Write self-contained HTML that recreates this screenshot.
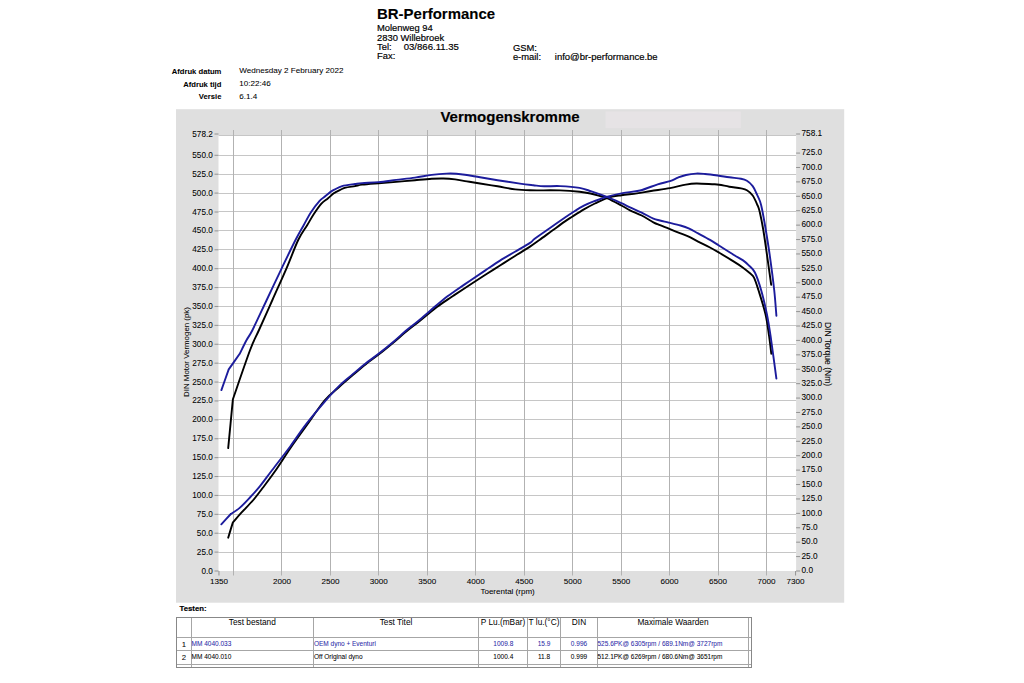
<!DOCTYPE html>
<html><head><meta charset="utf-8"><title>BR-Performance Vermogenskromme</title>
<style>
html,body{margin:0;padding:0;background:#fff;width:1024px;height:683px;overflow:hidden}
svg{display:block;font-family:"Liberation Sans",sans-serif}
</style></head><body>
<svg width="1024" height="683" viewBox="0 0 1024 683">
<text transform="translate(377.00,18.80) scale(1.055,1)" font-size="14.2" text-anchor="start" fill="#000" stroke="#000" stroke-width="0.1" font-weight="bold">BR-Performance</text>
<text transform="translate(377.00,30.80) scale(1.01,1)" font-size="9.3" text-anchor="start" fill="#000" stroke="#000" stroke-width="0.18">Molenweg 94</text>
<text transform="translate(377.00,41.00) scale(1.01,1)" font-size="9.3" text-anchor="start" fill="#000" stroke="#000" stroke-width="0.18">2830 Willebroek</text>
<text transform="translate(377.00,50.30) scale(1.01,1)" font-size="9.3" text-anchor="start" fill="#000" stroke="#000" stroke-width="0.18">Tel:</text>
<text transform="translate(377.00,59.40) scale(1.01,1)" font-size="9.3" text-anchor="start" fill="#000" stroke="#000" stroke-width="0.18">Fax:</text>
<text transform="translate(403.70,50.30) scale(1.03,1)" font-size="9.3" text-anchor="start" fill="#000" stroke="#000" stroke-width="0.18">03/866.11.35</text>
<text transform="translate(512.90,50.80) scale(1.01,1)" font-size="9.3" text-anchor="start" fill="#000" stroke="#000" stroke-width="0.18">GSM:</text>
<text transform="translate(512.90,59.60) scale(1.01,1)" font-size="9.3" text-anchor="start" fill="#000" stroke="#000" stroke-width="0.18">e-mail:</text>
<text transform="translate(554.80,59.60) scale(1.02,1)" font-size="9.3" text-anchor="start" fill="#000" stroke="#000" stroke-width="0.18">info@br-performance.be</text>
<text transform="translate(221.40,74.40) scale(1.0,1)" font-size="7.65" text-anchor="end" fill="#000" stroke="#000" stroke-width="0.05" font-weight="bold">Afdruk datum</text>
<text transform="translate(239.20,73.20) scale(1.0,1)" font-size="8.1" text-anchor="start" fill="#000" stroke="#000" stroke-width="0.05">Wednesday 2 February 2022</text>
<text transform="translate(221.40,86.60) scale(1.0,1)" font-size="7.65" text-anchor="end" fill="#000" stroke="#000" stroke-width="0.05" font-weight="bold">Afdruk tijd</text>
<text transform="translate(239.20,85.80) scale(1.0,1)" font-size="8.1" text-anchor="start" fill="#000" stroke="#000" stroke-width="0.05">10:22:46</text>
<text transform="translate(221.40,99.30) scale(1.0,1)" font-size="7.65" text-anchor="end" fill="#000" stroke="#000" stroke-width="0.05" font-weight="bold">Versie</text>
<text transform="translate(239.20,98.60) scale(1.0,1)" font-size="8.1" text-anchor="start" fill="#000" stroke="#000" stroke-width="0.05">6.1.4</text>
<rect x="176" y="109.2" width="668.2" height="493.5" fill="#dfdfdf"/>
<rect x="605.5" y="111.4" width="135.3" height="16.7" fill="#e6e3e5"/>
<text transform="translate(510.00,122.20) scale(1.08,1)" font-size="13.9" text-anchor="middle" fill="#000" stroke="#000" stroke-width="0.15" font-weight="bold">Vermogenskromme</text>
<rect x="218.5" y="135" width="577.6" height="436.0" fill="#fff"/>
<path d="M218.5 552.5H796.1M218.5 533.5H796.1M218.5 514.5H796.1M218.5 495.5H796.1M218.5 476.5H796.1M218.5 457.5H796.1M218.5 438.5H796.1M218.5 419.5H796.1M218.5 400.5H796.1M218.5 382.5H796.1M218.5 363.5H796.1M218.5 344.5H796.1M218.5 325.5H796.1M218.5 306.5H796.1M218.5 287.5H796.1M218.5 268.5H796.1M218.5 249.5H796.1M218.5 230.5H796.1M218.5 211.5H796.1M218.5 193.5H796.1M218.5 174.5H796.1M218.5 155.5H796.1M218.5 135.5H796.1" stroke="#c6c6c6" stroke-width="1" fill="none"/>
<path d="M233.5 130V575.5M281.5 130V575.5M330.5 130V575.5M378.5 130V575.5M427.5 130V575.5M475.5 130V575.5M524.5 130V575.5M572.5 130V575.5M621.5 130V575.5M669.5 130V575.5M718.5 130V575.5M766.5 130V575.5" stroke="#b2b2b2" stroke-width="1" fill="none"/>
<path d="M214.5 571.00H218.5M214.5 552.11H218.5M214.5 533.21H218.5M214.5 514.32H218.5M214.5 495.42H218.5M214.5 476.53H218.5M214.5 457.63H218.5M214.5 438.74H218.5M214.5 419.84H218.5M214.5 400.95H218.5M214.5 382.05H218.5M214.5 363.16H218.5M214.5 344.26H218.5M214.5 325.37H218.5M214.5 306.47H218.5M214.5 287.58H218.5M214.5 268.68H218.5M214.5 249.79H218.5M214.5 230.89H218.5M214.5 212.00H218.5M214.5 193.10H218.5M214.5 174.21H218.5M214.5 155.31H218.5M214.5 134.00H218.5M796.1 571.00H800.1M796.1 556.59H800.1M796.1 542.18H800.1M796.1 527.77H800.1M796.1 513.36H800.1M796.1 498.94H800.1M796.1 484.53H800.1M796.1 470.12H800.1M796.1 455.71H800.1M796.1 441.30H800.1M796.1 426.89H800.1M796.1 412.48H800.1M796.1 398.07H800.1M796.1 383.66H800.1M796.1 369.25H800.1M796.1 354.83H800.1M796.1 340.42H800.1M796.1 326.01H800.1M796.1 311.60H800.1M796.1 297.19H800.1M796.1 282.78H800.1M796.1 268.37H800.1M796.1 253.96H800.1M796.1 239.55H800.1M796.1 225.14H800.1M796.1 210.72H800.1M796.1 196.31H800.1M796.1 181.90H800.1M796.1 167.49H800.1M796.1 153.08H800.1M796.1 134.00H800.1M218.96 571.0V575.5M795.57 571.0V575.5" stroke="#8a8a8a" stroke-width="0.9" fill="none"/>
<text transform="translate(212.80,573.50) scale(1.0,1)" font-size="8.2" text-anchor="end" fill="#000" stroke="#000" stroke-width="0.06">0.0</text>
<text transform="translate(212.80,554.61) scale(1.0,1)" font-size="8.2" text-anchor="end" fill="#000" stroke="#000" stroke-width="0.06">25.0</text>
<text transform="translate(212.80,535.71) scale(1.0,1)" font-size="8.2" text-anchor="end" fill="#000" stroke="#000" stroke-width="0.06">50.0</text>
<text transform="translate(212.80,516.82) scale(1.0,1)" font-size="8.2" text-anchor="end" fill="#000" stroke="#000" stroke-width="0.06">75.0</text>
<text transform="translate(212.80,497.92) scale(1.0,1)" font-size="8.2" text-anchor="end" fill="#000" stroke="#000" stroke-width="0.06">100.0</text>
<text transform="translate(212.80,479.03) scale(1.0,1)" font-size="8.2" text-anchor="end" fill="#000" stroke="#000" stroke-width="0.06">125.0</text>
<text transform="translate(212.80,460.13) scale(1.0,1)" font-size="8.2" text-anchor="end" fill="#000" stroke="#000" stroke-width="0.06">150.0</text>
<text transform="translate(212.80,441.24) scale(1.0,1)" font-size="8.2" text-anchor="end" fill="#000" stroke="#000" stroke-width="0.06">175.0</text>
<text transform="translate(212.80,422.34) scale(1.0,1)" font-size="8.2" text-anchor="end" fill="#000" stroke="#000" stroke-width="0.06">200.0</text>
<text transform="translate(212.80,403.45) scale(1.0,1)" font-size="8.2" text-anchor="end" fill="#000" stroke="#000" stroke-width="0.06">225.0</text>
<text transform="translate(212.80,384.55) scale(1.0,1)" font-size="8.2" text-anchor="end" fill="#000" stroke="#000" stroke-width="0.06">250.0</text>
<text transform="translate(212.80,365.66) scale(1.0,1)" font-size="8.2" text-anchor="end" fill="#000" stroke="#000" stroke-width="0.06">275.0</text>
<text transform="translate(212.80,346.76) scale(1.0,1)" font-size="8.2" text-anchor="end" fill="#000" stroke="#000" stroke-width="0.06">300.0</text>
<text transform="translate(212.80,327.87) scale(1.0,1)" font-size="8.2" text-anchor="end" fill="#000" stroke="#000" stroke-width="0.06">325.0</text>
<text transform="translate(212.80,308.97) scale(1.0,1)" font-size="8.2" text-anchor="end" fill="#000" stroke="#000" stroke-width="0.06">350.0</text>
<text transform="translate(212.80,290.08) scale(1.0,1)" font-size="8.2" text-anchor="end" fill="#000" stroke="#000" stroke-width="0.06">375.0</text>
<text transform="translate(212.80,271.18) scale(1.0,1)" font-size="8.2" text-anchor="end" fill="#000" stroke="#000" stroke-width="0.06">400.0</text>
<text transform="translate(212.80,252.29) scale(1.0,1)" font-size="8.2" text-anchor="end" fill="#000" stroke="#000" stroke-width="0.06">425.0</text>
<text transform="translate(212.80,233.39) scale(1.0,1)" font-size="8.2" text-anchor="end" fill="#000" stroke="#000" stroke-width="0.06">450.0</text>
<text transform="translate(212.80,214.50) scale(1.0,1)" font-size="8.2" text-anchor="end" fill="#000" stroke="#000" stroke-width="0.06">475.0</text>
<text transform="translate(212.80,195.60) scale(1.0,1)" font-size="8.2" text-anchor="end" fill="#000" stroke="#000" stroke-width="0.06">500.0</text>
<text transform="translate(212.80,176.71) scale(1.0,1)" font-size="8.2" text-anchor="end" fill="#000" stroke="#000" stroke-width="0.06">525.0</text>
<text transform="translate(212.80,157.81) scale(1.0,1)" font-size="8.2" text-anchor="end" fill="#000" stroke="#000" stroke-width="0.06">550.0</text>
<text transform="translate(212.80,136.50) scale(1.0,1)" font-size="8.2" text-anchor="end" fill="#000" stroke="#000" stroke-width="0.06">578.2</text>
<text transform="translate(801.50,573.30) scale(1.01,1)" font-size="8.2" text-anchor="start" fill="#000" stroke="#000" stroke-width="0.06">0.0</text>
<text transform="translate(801.50,558.89) scale(1.01,1)" font-size="8.2" text-anchor="start" fill="#000" stroke="#000" stroke-width="0.06">25.0</text>
<text transform="translate(801.50,544.48) scale(1.01,1)" font-size="8.2" text-anchor="start" fill="#000" stroke="#000" stroke-width="0.06">50.0</text>
<text transform="translate(801.50,530.07) scale(1.01,1)" font-size="8.2" text-anchor="start" fill="#000" stroke="#000" stroke-width="0.06">75.0</text>
<text transform="translate(801.50,515.66) scale(1.01,1)" font-size="8.2" text-anchor="start" fill="#000" stroke="#000" stroke-width="0.06">100.0</text>
<text transform="translate(801.50,501.24) scale(1.01,1)" font-size="8.2" text-anchor="start" fill="#000" stroke="#000" stroke-width="0.06">125.0</text>
<text transform="translate(801.50,486.83) scale(1.01,1)" font-size="8.2" text-anchor="start" fill="#000" stroke="#000" stroke-width="0.06">150.0</text>
<text transform="translate(801.50,472.42) scale(1.01,1)" font-size="8.2" text-anchor="start" fill="#000" stroke="#000" stroke-width="0.06">175.0</text>
<text transform="translate(801.50,458.01) scale(1.01,1)" font-size="8.2" text-anchor="start" fill="#000" stroke="#000" stroke-width="0.06">200.0</text>
<text transform="translate(801.50,443.60) scale(1.01,1)" font-size="8.2" text-anchor="start" fill="#000" stroke="#000" stroke-width="0.06">225.0</text>
<text transform="translate(801.50,429.19) scale(1.01,1)" font-size="8.2" text-anchor="start" fill="#000" stroke="#000" stroke-width="0.06">250.0</text>
<text transform="translate(801.50,414.78) scale(1.01,1)" font-size="8.2" text-anchor="start" fill="#000" stroke="#000" stroke-width="0.06">275.0</text>
<text transform="translate(801.50,400.37) scale(1.01,1)" font-size="8.2" text-anchor="start" fill="#000" stroke="#000" stroke-width="0.06">300.0</text>
<text transform="translate(801.50,385.96) scale(1.01,1)" font-size="8.2" text-anchor="start" fill="#000" stroke="#000" stroke-width="0.06">325.0</text>
<text transform="translate(801.50,371.55) scale(1.01,1)" font-size="8.2" text-anchor="start" fill="#000" stroke="#000" stroke-width="0.06">350.0</text>
<text transform="translate(801.50,357.13) scale(1.01,1)" font-size="8.2" text-anchor="start" fill="#000" stroke="#000" stroke-width="0.06">375.0</text>
<text transform="translate(801.50,342.72) scale(1.01,1)" font-size="8.2" text-anchor="start" fill="#000" stroke="#000" stroke-width="0.06">400.0</text>
<text transform="translate(801.50,328.31) scale(1.01,1)" font-size="8.2" text-anchor="start" fill="#000" stroke="#000" stroke-width="0.06">425.0</text>
<text transform="translate(801.50,313.90) scale(1.01,1)" font-size="8.2" text-anchor="start" fill="#000" stroke="#000" stroke-width="0.06">450.0</text>
<text transform="translate(801.50,299.49) scale(1.01,1)" font-size="8.2" text-anchor="start" fill="#000" stroke="#000" stroke-width="0.06">475.0</text>
<text transform="translate(801.50,285.08) scale(1.01,1)" font-size="8.2" text-anchor="start" fill="#000" stroke="#000" stroke-width="0.06">500.0</text>
<text transform="translate(801.50,270.67) scale(1.01,1)" font-size="8.2" text-anchor="start" fill="#000" stroke="#000" stroke-width="0.06">525.0</text>
<text transform="translate(801.50,256.26) scale(1.01,1)" font-size="8.2" text-anchor="start" fill="#000" stroke="#000" stroke-width="0.06">550.0</text>
<text transform="translate(801.50,241.85) scale(1.01,1)" font-size="8.2" text-anchor="start" fill="#000" stroke="#000" stroke-width="0.06">575.0</text>
<text transform="translate(801.50,227.44) scale(1.01,1)" font-size="8.2" text-anchor="start" fill="#000" stroke="#000" stroke-width="0.06">600.0</text>
<text transform="translate(801.50,213.02) scale(1.01,1)" font-size="8.2" text-anchor="start" fill="#000" stroke="#000" stroke-width="0.06">625.0</text>
<text transform="translate(801.50,198.61) scale(1.01,1)" font-size="8.2" text-anchor="start" fill="#000" stroke="#000" stroke-width="0.06">650.0</text>
<text transform="translate(801.50,184.20) scale(1.01,1)" font-size="8.2" text-anchor="start" fill="#000" stroke="#000" stroke-width="0.06">675.0</text>
<text transform="translate(801.50,169.79) scale(1.01,1)" font-size="8.2" text-anchor="start" fill="#000" stroke="#000" stroke-width="0.06">700.0</text>
<text transform="translate(801.50,155.38) scale(1.01,1)" font-size="8.2" text-anchor="start" fill="#000" stroke="#000" stroke-width="0.06">725.0</text>
<text transform="translate(801.50,136.30) scale(1.01,1)" font-size="8.2" text-anchor="start" fill="#000" stroke="#000" stroke-width="0.06">758.1</text>
<text transform="translate(218.96,583.60) scale(1.0,1)" font-size="8.1" text-anchor="middle" fill="#000" stroke="#000" stroke-width="0.06">1350</text>
<text transform="translate(281.95,583.60) scale(1.0,1)" font-size="8.1" text-anchor="middle" fill="#000" stroke="#000" stroke-width="0.06">2000</text>
<text transform="translate(330.41,583.60) scale(1.0,1)" font-size="8.1" text-anchor="middle" fill="#000" stroke="#000" stroke-width="0.06">2500</text>
<text transform="translate(378.86,583.60) scale(1.0,1)" font-size="8.1" text-anchor="middle" fill="#000" stroke="#000" stroke-width="0.06">3000</text>
<text transform="translate(427.31,583.60) scale(1.0,1)" font-size="8.1" text-anchor="middle" fill="#000" stroke="#000" stroke-width="0.06">3500</text>
<text transform="translate(475.77,583.60) scale(1.0,1)" font-size="8.1" text-anchor="middle" fill="#000" stroke="#000" stroke-width="0.06">4000</text>
<text transform="translate(524.22,583.60) scale(1.0,1)" font-size="8.1" text-anchor="middle" fill="#000" stroke="#000" stroke-width="0.06">4500</text>
<text transform="translate(572.68,583.60) scale(1.0,1)" font-size="8.1" text-anchor="middle" fill="#000" stroke="#000" stroke-width="0.06">5000</text>
<text transform="translate(621.13,583.60) scale(1.0,1)" font-size="8.1" text-anchor="middle" fill="#000" stroke="#000" stroke-width="0.06">5500</text>
<text transform="translate(669.59,583.60) scale(1.0,1)" font-size="8.1" text-anchor="middle" fill="#000" stroke="#000" stroke-width="0.06">6000</text>
<text transform="translate(718.04,583.60) scale(1.0,1)" font-size="8.1" text-anchor="middle" fill="#000" stroke="#000" stroke-width="0.06">6500</text>
<text transform="translate(766.50,583.60) scale(1.0,1)" font-size="8.1" text-anchor="middle" fill="#000" stroke="#000" stroke-width="0.06">7000</text>
<text transform="translate(795.57,583.60) scale(1.0,1)" font-size="8.1" text-anchor="middle" fill="#000" stroke="#000" stroke-width="0.06">7300</text>
<text transform="translate(507.60,593.50) scale(1.0,1)" font-size="8.0" text-anchor="middle" fill="#000" stroke="#000" stroke-width="0.05">Toerental (rpm)</text>
<text transform="translate(188.6,352) rotate(-90)" font-size="7.9" text-anchor="middle" fill="#000" stroke="#000" stroke-width="0.05">DIN Motor Vermogen (pk)</text>
<text transform="translate(825.0,354.0) rotate(90)" font-size="8.5" text-anchor="middle" fill="#000" stroke="#000" stroke-width="0.05">DIN Torque (Nm)</text>
<path d="M228.20 537.70C228.97 535.18 232.03 525.12 232.80 522.60M232.80 522.60C234.23 520.95 237.98 516.47 241.40 512.70C244.82 508.93 249.80 504.07 253.30 500.00C256.80 495.93 258.78 493.08 262.40 488.30C266.02 483.52 270.20 478.18 275.00 471.30C279.80 464.42 285.93 454.63 291.20 447.00C296.47 439.37 301.05 433.25 306.60 425.50C312.15 417.75 319.12 406.88 324.50 400.50C329.88 394.12 334.32 391.32 338.90 387.20C343.48 383.08 347.57 379.60 352.00 375.80C356.43 372.00 361.07 367.93 365.50 364.40C369.93 360.87 373.68 358.47 378.60 354.60C383.52 350.73 390.60 344.87 395.00 341.20C399.40 337.53 400.83 336.02 405.00 332.60C409.17 329.18 415.00 324.73 420.00 320.70C425.00 316.67 430.42 311.92 435.00 308.40C439.58 304.88 444.17 301.90 447.50 299.60C450.83 297.30 451.25 297.07 455.00 294.60C458.75 292.13 465.00 288.07 470.00 284.80C475.00 281.53 480.00 278.22 485.00 275.00C490.00 271.78 495.00 268.67 500.00 265.50C505.00 262.33 510.00 259.15 515.00 256.00C520.00 252.85 525.93 249.27 530.00 246.60C534.07 243.93 535.73 242.63 539.40 240.00C543.07 237.37 547.73 233.90 552.00 230.80C556.27 227.70 561.63 223.75 565.00 221.40C568.37 219.05 569.05 218.70 572.20 216.70C575.35 214.70 580.12 211.60 583.90 209.40C587.68 207.20 590.95 205.43 594.90 203.50C598.85 201.57 603.18 199.18 607.60 197.80C612.02 196.42 616.52 195.93 621.40 195.20C626.28 194.47 631.97 194.10 636.90 193.40C641.83 192.70 645.48 191.88 651.00 191.00C656.52 190.12 664.20 189.17 670.00 188.10C675.80 187.03 681.42 185.37 685.80 184.60C690.18 183.83 691.92 183.57 696.30 183.50C700.68 183.43 708.28 184.00 712.10 184.20C715.92 184.40 716.33 184.28 719.20 184.70C722.07 185.12 725.67 186.08 729.30 186.70C732.93 187.32 738.07 187.82 741.00 188.40C743.93 188.98 744.95 189.02 746.90 190.20C748.85 191.38 750.95 193.03 752.70 195.50C754.45 197.97 756.23 202.28 757.40 205.00C758.57 207.72 758.72 207.63 759.70 211.80C760.68 215.97 762.05 222.58 763.30 230.00C764.55 237.42 765.88 247.15 767.20 256.30C768.52 265.45 770.53 280.13 771.20 284.90" fill="none" stroke="#000" stroke-width="1.9" stroke-linejoin="round" stroke-linecap="round"/>
<path d="M228.20 448.10C228.98 439.95 232.12 407.35 232.90 399.20M232.90 399.20C235.77 391.00 245.75 361.53 250.10 350.00C254.45 338.47 255.28 338.33 259.00 330.00C262.72 321.67 267.80 310.32 272.40 300.00C277.00 289.68 282.30 278.10 286.60 268.10C290.90 258.10 294.75 247.18 298.20 240.00C301.65 232.82 304.72 229.28 307.30 225.00C309.88 220.72 311.35 217.85 313.70 214.30C316.05 210.75 319.05 206.33 321.40 203.70C323.75 201.07 325.85 200.15 327.80 198.50C329.75 196.85 331.90 194.78 333.10 193.80C334.30 192.82 333.07 193.58 335.00 192.60C336.93 191.62 341.37 188.98 344.70 187.90C348.03 186.82 352.10 186.65 355.00 186.10C357.90 185.55 358.18 185.08 362.10 184.60C366.02 184.12 372.80 183.65 378.50 183.20C384.20 182.75 390.22 182.40 396.30 181.90C402.38 181.40 409.10 180.72 415.00 180.20C420.90 179.68 426.97 179.08 431.70 178.80C436.43 178.52 439.50 178.40 443.40 178.50C447.30 178.60 451.18 178.92 455.10 179.40C459.02 179.88 462.75 180.72 466.90 181.40C471.05 182.08 474.88 182.68 480.00 183.50C485.12 184.32 491.73 185.32 497.60 186.30C503.47 187.28 509.80 188.73 515.20 189.40C520.60 190.07 522.53 190.13 530.00 190.30C537.47 190.47 551.73 190.17 560.00 190.40C568.27 190.63 574.37 191.15 579.60 191.70C584.83 192.25 588.00 192.98 591.40 193.70C594.80 194.42 597.30 195.22 600.00 196.00C602.70 196.78 604.03 196.82 607.60 198.40C611.17 199.98 617.67 203.52 621.40 205.50C625.13 207.48 626.62 208.63 630.00 210.30C633.38 211.97 637.80 213.50 641.70 215.50C645.60 217.50 650.35 220.68 653.40 222.30C656.45 223.92 657.43 224.13 660.00 225.20C662.57 226.27 665.38 227.33 668.80 228.70C672.22 230.07 677.08 232.03 680.50 233.40C683.92 234.77 686.37 235.53 689.30 236.90C692.23 238.27 694.65 239.83 698.10 241.60C701.55 243.37 706.47 245.63 710.00 247.50C713.53 249.37 715.32 250.45 719.30 252.80C723.28 255.15 730.00 259.17 733.90 261.60C737.80 264.03 740.02 265.45 742.70 267.40C745.38 269.35 748.12 271.60 750.00 273.30C751.88 275.00 752.60 274.82 754.00 277.60C755.40 280.38 756.48 283.90 758.40 290.00C760.32 296.10 763.72 306.50 765.50 314.20C767.28 321.90 768.13 329.62 769.10 336.20C770.07 342.78 770.93 350.78 771.30 353.70" fill="none" stroke="#000" stroke-width="1.9" stroke-linejoin="round" stroke-linecap="round"/>
<path d="M221.30 524.30C222.88 522.58 229.22 515.72 230.80 514.00M230.80 514.00C232.23 513.02 236.32 510.73 239.40 508.10C242.48 505.47 245.90 501.82 249.30 498.20C252.70 494.58 255.98 491.10 259.80 486.40C263.62 481.70 267.10 476.70 272.20 470.00C277.30 463.30 284.80 453.77 290.40 446.20C296.00 438.63 300.03 432.07 305.80 424.60C311.57 417.13 319.60 407.68 325.00 401.40C330.40 395.12 333.80 391.23 338.20 386.90C342.60 382.57 346.93 379.23 351.40 375.40C355.87 371.57 360.53 367.45 365.00 363.90C369.47 360.35 373.20 358.02 378.20 354.10C383.20 350.18 390.53 344.15 395.00 340.40C399.47 336.65 400.83 335.08 405.00 331.60C409.17 328.12 415.00 323.67 420.00 319.50C425.00 315.33 430.42 310.47 435.00 306.60C439.58 302.73 444.17 298.90 447.50 296.30C450.83 293.70 451.25 293.60 455.00 291.00C458.75 288.40 465.00 284.10 470.00 280.70C475.00 277.30 480.00 273.95 485.00 270.60C490.00 267.25 495.00 263.73 500.00 260.60C505.00 257.47 510.00 254.75 515.00 251.80C520.00 248.85 526.67 245.12 530.00 242.90C533.33 240.68 531.67 240.98 535.00 238.50C538.33 236.02 545.00 231.50 550.00 228.00C555.00 224.50 561.30 220.05 565.00 217.50C568.70 214.95 569.05 214.67 572.20 212.70C575.35 210.73 580.12 207.65 583.90 205.70C587.68 203.75 590.95 202.52 594.90 201.00C598.85 199.48 602.98 197.92 607.60 196.60C612.22 195.28 617.18 194.12 622.60 193.10C628.02 192.08 634.25 191.97 640.10 190.50C645.95 189.03 652.72 185.87 657.70 184.30C662.68 182.73 666.62 182.22 670.00 181.10C673.38 179.98 675.33 178.62 678.00 177.60C680.67 176.58 683.00 175.67 686.00 175.00C689.00 174.33 692.83 173.77 696.00 173.60C699.17 173.43 701.40 173.68 705.00 174.00C708.60 174.32 713.55 174.95 717.60 175.50C721.65 176.05 725.40 176.75 729.30 177.30C733.20 177.85 738.07 178.22 741.00 178.80C743.93 179.38 744.95 179.58 746.90 180.80C748.85 182.02 751.10 183.98 752.70 186.10C754.30 188.22 755.28 190.97 756.50 193.50C757.72 196.03 759.07 198.63 760.00 201.30C760.93 203.97 761.13 204.72 762.10 209.50C763.07 214.28 764.50 222.20 765.80 230.00C767.10 237.80 768.50 246.30 769.90 256.30C771.30 266.30 773.12 280.10 774.20 290.00C775.28 299.90 776.03 311.42 776.40 315.70" fill="none" stroke="#1c1c9c" stroke-width="1.9" stroke-linejoin="round" stroke-linecap="round"/>
<path d="M221.40 390.10C222.62 386.65 227.48 372.85 228.70 369.40M228.70 369.40C230.53 366.80 237.87 356.40 239.70 353.80M239.70 353.80C240.85 351.50 244.47 343.97 246.60 340.00C248.73 336.03 249.15 336.67 252.50 330.00C255.85 323.33 261.82 310.32 266.70 300.00C271.58 289.68 277.00 278.10 281.80 268.10C286.60 258.10 291.83 247.18 295.50 240.00C299.17 232.82 301.25 229.58 303.80 225.00C306.35 220.42 308.17 216.53 310.80 212.50C313.43 208.47 317.15 203.53 319.60 200.80C322.05 198.07 323.55 197.67 325.50 196.10C327.45 194.53 329.72 192.52 331.30 191.40C332.88 190.28 333.20 190.28 335.00 189.40C336.80 188.52 338.77 187.00 342.10 186.10C345.43 185.20 351.67 184.50 355.00 184.00C358.33 183.50 358.18 183.42 362.10 183.10C366.02 182.78 372.80 182.63 378.50 182.10C384.20 181.57 390.22 180.65 396.30 179.90C402.38 179.15 409.10 178.43 415.00 177.60C420.90 176.77 426.47 175.57 431.70 174.90C436.93 174.23 442.30 173.80 446.40 173.60C450.50 173.40 452.88 173.47 456.30 173.70C459.72 173.93 462.95 174.40 466.90 175.00C470.85 175.60 474.88 176.43 480.00 177.30C485.12 178.17 490.93 179.15 497.60 180.20C504.27 181.25 514.07 182.77 520.00 183.60C525.93 184.43 529.17 184.75 533.20 185.20C537.23 185.65 539.73 186.15 544.20 186.30C548.67 186.45 554.10 185.83 560.00 186.10C565.90 186.37 574.37 187.02 579.60 187.90C584.83 188.78 586.73 189.85 591.40 191.40C596.07 192.95 602.60 195.23 607.60 197.20C612.60 199.17 617.67 201.52 621.40 203.20C625.13 204.88 626.62 205.73 630.00 207.30C633.38 208.87 637.80 210.70 641.70 212.60C645.60 214.50 650.35 217.38 653.40 218.70C656.45 220.02 657.43 219.85 660.00 220.50C662.57 221.15 665.38 221.77 668.80 222.60C672.22 223.43 677.08 224.48 680.50 225.50C683.92 226.52 686.37 227.38 689.30 228.70C692.23 230.02 694.65 231.53 698.10 233.40C701.55 235.27 706.47 237.83 710.00 239.90C713.53 241.97 715.32 243.28 719.30 245.80C723.28 248.32 730.00 252.62 733.90 255.00C737.80 257.38 740.22 258.38 742.70 260.10C745.18 261.82 746.77 263.23 748.80 265.30C750.83 267.37 752.85 268.38 754.90 272.50C756.95 276.62 759.10 283.05 761.10 290.00C763.10 296.95 765.32 306.50 766.90 314.20C768.48 321.90 769.02 325.47 770.60 336.20C772.18 346.93 775.43 371.53 776.40 378.60" fill="none" stroke="#1c1c9c" stroke-width="1.9" stroke-linejoin="round" stroke-linecap="round"/>
<text transform="translate(179.50,611.30) scale(1.08,1)" font-size="7.2" text-anchor="start" fill="#000" stroke="#000" stroke-width="0.15" font-weight="bold">Testen:</text>
<path d="M176.5 637.5H751.5M176.5 650.5H751.5M176.5 664.5H751.5M191.5 617.5V667.5M313.5 617.5V667.5M478.5 617.5V667.5M527.5 617.5V667.5M560.5 617.5V667.5M597.5 617.5V667.5M748.5 617.5V667.5" stroke="#a6a6a6" stroke-width="1" fill="none"/>
<path d="M176 617.5H752M176 667.5H752M176.5 617V668M751.5 617V668" stroke="#888888" stroke-width="1" fill="none"/>
<text transform="translate(252.30,624.80) scale(1.0,1)" font-size="8.3" text-anchor="middle" fill="#000" stroke="#000" stroke-width="0">Test bestand</text>
<text transform="translate(396.00,624.80) scale(1.0,1)" font-size="8.3" text-anchor="middle" fill="#000" stroke="#000" stroke-width="0">Test Titel</text>
<text transform="translate(503.00,624.80) scale(1.0,1)" font-size="8.3" text-anchor="middle" fill="#000" stroke="#000" stroke-width="0">P Lu.(mBar)</text>
<text transform="translate(544.00,624.80) scale(1.0,1)" font-size="8.3" text-anchor="middle" fill="#000" stroke="#000" stroke-width="0">T lu.(°C)</text>
<text transform="translate(579.00,624.80) scale(1.0,1)" font-size="8.3" text-anchor="middle" fill="#000" stroke="#000" stroke-width="0">DIN</text>
<text transform="translate(673.00,624.80) scale(1.0,1)" font-size="8.3" text-anchor="middle" fill="#000" stroke="#000" stroke-width="0">Maximale Waarden</text>
<text transform="translate(183.80,646.60) scale(1.0,1)" font-size="7.8" text-anchor="middle" fill="#000" stroke="#000" stroke-width="0.03">1</text>
<text transform="translate(183.80,659.90) scale(1.0,1)" font-size="7.8" text-anchor="middle" fill="#000" stroke="#000" stroke-width="0.03">2</text>
<text transform="translate(191.60,645.80) scale(1.0,1)" font-size="6.5" text-anchor="start" fill="#2c2ca8" stroke="#2c2ca8" stroke-width="0.05">MM 4040.033</text>
<text transform="translate(191.60,659.10) scale(1.0,1)" font-size="6.5" text-anchor="start" fill="#000" stroke="#000" stroke-width="0.05">MM 4040.010</text>
<text transform="translate(313.90,645.80) scale(1.0,1)" font-size="6.5" text-anchor="start" fill="#2c2ca8" stroke="#2c2ca8" stroke-width="0.05">OEM dyno + Eventuri</text>
<text transform="translate(313.90,659.10) scale(1.0,1)" font-size="6.5" text-anchor="start" fill="#000" stroke="#000" stroke-width="0.05">Off Original dyno</text>
<text transform="translate(503.30,645.80) scale(1.0,1)" font-size="6.5" text-anchor="middle" fill="#2c2ca8" stroke="#2c2ca8" stroke-width="0.05">1009.8</text>
<text transform="translate(503.30,659.10) scale(1.0,1)" font-size="6.5" text-anchor="middle" fill="#000" stroke="#000" stroke-width="0.05">1000.4</text>
<text transform="translate(544.00,645.80) scale(1.0,1)" font-size="6.5" text-anchor="middle" fill="#2c2ca8" stroke="#2c2ca8" stroke-width="0.05">15.9</text>
<text transform="translate(544.00,659.10) scale(1.0,1)" font-size="6.5" text-anchor="middle" fill="#000" stroke="#000" stroke-width="0.05">11.8</text>
<text transform="translate(579.00,645.80) scale(1.0,1)" font-size="6.5" text-anchor="middle" fill="#2c2ca8" stroke="#2c2ca8" stroke-width="0.05">0.996</text>
<text transform="translate(579.00,659.10) scale(1.0,1)" font-size="6.5" text-anchor="middle" fill="#000" stroke="#000" stroke-width="0.05">0.999</text>
<text transform="translate(597.50,645.80) scale(1.0,1)" font-size="6.5" text-anchor="start" fill="#2c2ca8" stroke="#2c2ca8" stroke-width="0.05">525.6PK@ 6305rpm / 689.1Nm@ 3727rpm</text>
<text transform="translate(597.50,659.10) scale(1.0,1)" font-size="6.5" text-anchor="start" fill="#000" stroke="#000" stroke-width="0.05">512.1PK@ 6269rpm / 680.6Nm@ 3651rpm</text>
</svg>
</body></html>
